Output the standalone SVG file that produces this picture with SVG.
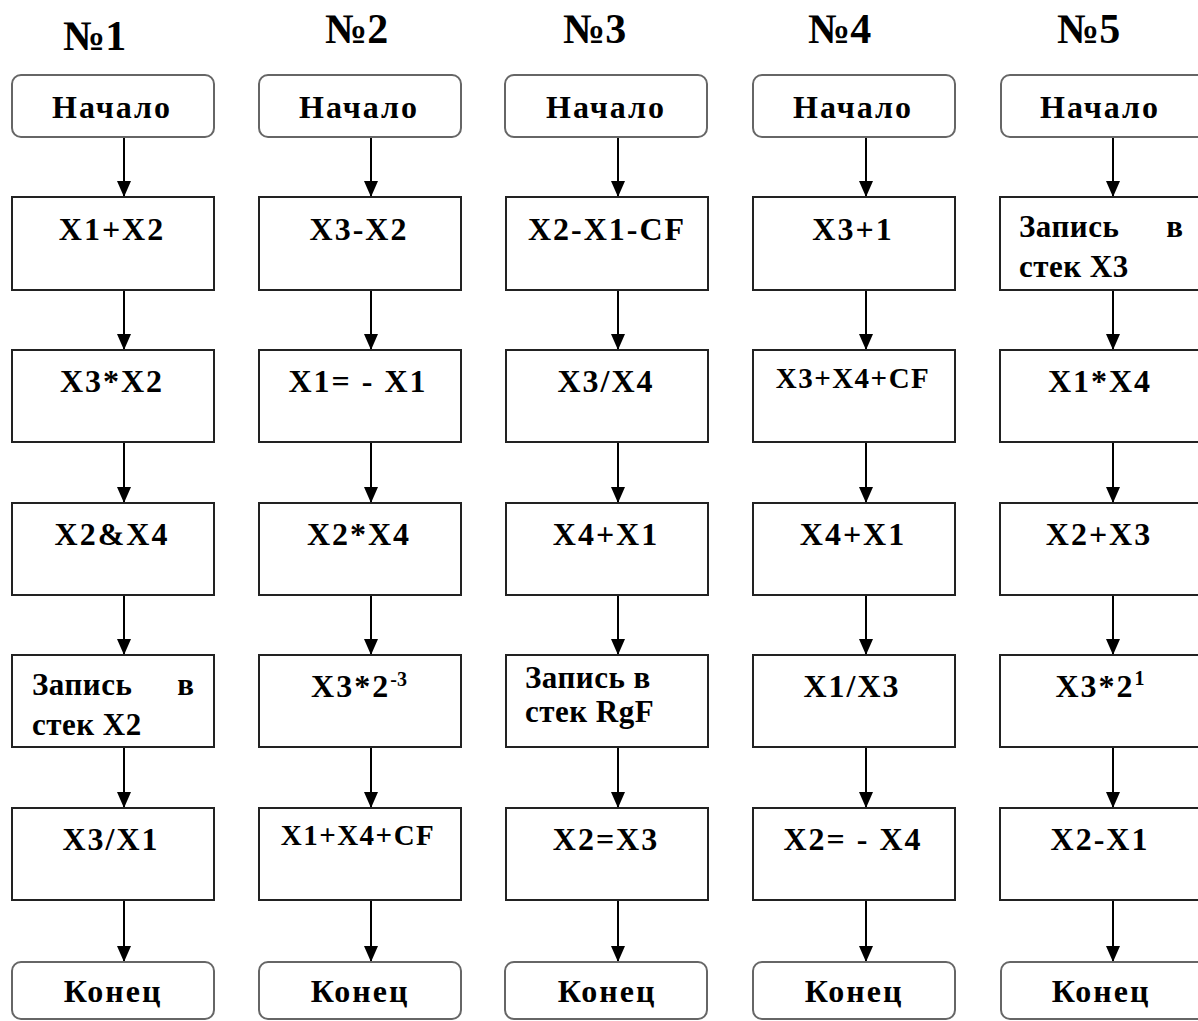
<svg xmlns="http://www.w3.org/2000/svg" width="1198" height="1021" viewBox="0 0 1198 1021">
  <style>
    text { font-family: "Liberation Serif", "Times New Roman", "DejaVu Serif", serif; font-weight: 700; fill: #000; }
    .hdr { font-size: 42px; }
    .lbl { font-size: 32px; letter-spacing: 2px; text-anchor: middle; }
    .sm { font-size: 29px; letter-spacing: 1.5px; text-anchor: middle; }
    .two { font-size: 31px; letter-spacing: 0.5px; }
    .term { fill: #fff; stroke: #666; stroke-width: 2; }
    .op { fill: #fff; stroke: #222; stroke-width: 2; }
    .conn line { stroke: #000; stroke-width: 2; marker-end: url(#arr); }
  </style>
  <defs>
    <marker id="arr" markerUnits="userSpaceOnUse" markerWidth="16" markerHeight="14" viewBox="0 0 16 14" refX="16" refY="7" orient="auto">
      <path d="M0,0 L16,7 L0,14 z" fill="#000"/>
    </marker>
  </defs>
  <rect width="1198" height="1021" fill="#fff"/>

  <!-- column headings -->
  <g id="headers">
    <text class="hdr" x="63" y="50">№1</text>
    <text class="hdr" x="325" y="43">№2</text>
    <text class="hdr" x="563" y="43">№3</text>
    <text class="hdr" x="808" y="43">№4</text>
    <text class="hdr" x="1057" y="43">№5</text>
  </g>

  <!-- connectors -->
  <g id="connectors" class="conn">
    <line x1="124" y1="137" x2="124" y2="197"/>
    <line x1="124" y1="290" x2="124" y2="350"/>
    <line x1="124" y1="442" x2="124" y2="503"/>
    <line x1="124" y1="595" x2="124" y2="655"/>
    <line x1="124" y1="747" x2="124" y2="808"/>
    <line x1="124" y1="900" x2="124" y2="962"/>

    <line x1="371" y1="137" x2="371" y2="197"/>
    <line x1="371" y1="290" x2="371" y2="350"/>
    <line x1="371" y1="442" x2="371" y2="503"/>
    <line x1="371" y1="595" x2="371" y2="655"/>
    <line x1="371" y1="747" x2="371" y2="808"/>
    <line x1="371" y1="900" x2="371" y2="962"/>

    <line x1="618" y1="137" x2="618" y2="197"/>
    <line x1="618" y1="290" x2="618" y2="350"/>
    <line x1="618" y1="442" x2="618" y2="503"/>
    <line x1="618" y1="595" x2="618" y2="655"/>
    <line x1="618" y1="747" x2="618" y2="808"/>
    <line x1="618" y1="900" x2="618" y2="962"/>

    <line x1="866" y1="137" x2="866" y2="197"/>
    <line x1="866" y1="290" x2="866" y2="350"/>
    <line x1="866" y1="442" x2="866" y2="503"/>
    <line x1="866" y1="595" x2="866" y2="655"/>
    <line x1="866" y1="747" x2="866" y2="808"/>
    <line x1="866" y1="900" x2="866" y2="962"/>

    <line x1="1113" y1="137" x2="1113" y2="197"/>
    <line x1="1113" y1="290" x2="1113" y2="350"/>
    <line x1="1113" y1="442" x2="1113" y2="503"/>
    <line x1="1113" y1="595" x2="1113" y2="655"/>
    <line x1="1113" y1="747" x2="1113" y2="808"/>
    <line x1="1113" y1="900" x2="1113" y2="962"/>
  </g>

  <!-- column 1 -->
  <g id="c1-start"><rect class="term" x="12" y="75" width="202" height="62" rx="9"/><text class="lbl" x="112" y="118">Начало</text></g>
  <g id="c1-s1"><rect class="op" x="12" y="197" width="202" height="93"/><text class="lbl" x="112" y="240">X1+X2</text></g>
  <g id="c1-s2"><rect class="op" x="12" y="350" width="202" height="92"/><text class="lbl" x="112" y="392">X3*X2</text></g>
  <g id="c1-s3"><rect class="op" x="12" y="503" width="202" height="92"/><text class="lbl" x="112" y="545">X2&amp;X4</text></g>
  <g id="c1-s4"><rect class="op" x="12" y="655" width="202" height="92"/>
    <text class="two" x="32" y="695">Запись</text><text class="two" x="194" y="695" text-anchor="end" style="letter-spacing:0">в</text>
    <text class="two" x="32" y="735">стек X2</text></g>
  <g id="c1-s5"><rect class="op" x="12" y="808" width="202" height="92"/><text class="lbl" x="111" y="850">X3/X1</text></g>
  <g id="c1-end"><rect class="term" x="12" y="962" width="202" height="57" rx="9"/><text class="lbl" x="113" y="1002">Конец</text></g>

  <!-- column 2 -->
  <g id="c2-start"><rect class="term" x="259" y="75" width="202" height="62" rx="9"/><text class="lbl" x="359" y="118">Начало</text></g>
  <g id="c2-s1"><rect class="op" x="259" y="197" width="202" height="93"/><text class="lbl" x="359" y="240">X3-X2</text></g>
  <g id="c2-s2"><rect class="op" x="259" y="350" width="202" height="92"/><text class="lbl" x="358" y="392">X1= - X1</text></g>
  <g id="c2-s3"><rect class="op" x="259" y="503" width="202" height="92"/><text class="lbl" x="359" y="545">X2*X4</text></g>
  <g id="c2-s4"><rect class="op" x="259" y="655" width="202" height="92"/><text class="lbl" x="359" y="697">X3*2<tspan font-size="20" dy="-11" letter-spacing="0">-3</tspan></text></g>
  <g id="c2-s5"><rect class="op" x="259" y="808" width="202" height="92"/><text class="sm" x="358" y="845">X1+X4+CF</text></g>
  <g id="c2-end"><rect class="term" x="259" y="962" width="202" height="57" rx="9"/><text class="lbl" x="360" y="1002">Конец</text></g>

  <!-- column 3 -->
  <g id="c3-start"><rect class="term" x="505" y="75" width="202" height="62" rx="9"/><text class="lbl" x="606" y="118">Начало</text></g>
  <g id="c3-s1"><rect class="op" x="506" y="197" width="202" height="93"/><text class="lbl" x="607" y="240">X2-X1-CF</text></g>
  <g id="c3-s2"><rect class="op" x="506" y="350" width="202" height="92"/><text class="lbl" x="606" y="392">X3/X4</text></g>
  <g id="c3-s3"><rect class="op" x="506" y="503" width="202" height="92"/><text class="lbl" x="606" y="545">X4+X1</text></g>
  <g id="c3-s4"><rect class="op" x="506" y="655" width="202" height="92"/>
    <text class="two" x="525" y="688">Запись в</text>
    <text class="two" x="525" y="722">стек RgF</text></g>
  <g id="c3-s5"><rect class="op" x="506" y="808" width="202" height="92"/><text class="lbl" x="606" y="850">X2=X3</text></g>
  <g id="c3-end"><rect class="term" x="505" y="962" width="202" height="57" rx="9"/><text class="lbl" x="607" y="1002">Конец</text></g>

  <!-- column 4 -->
  <g id="c4-start"><rect class="term" x="753" y="75" width="202" height="62" rx="9"/><text class="lbl" x="853" y="118">Начало</text></g>
  <g id="c4-s1"><rect class="op" x="753" y="197" width="202" height="93"/><text class="lbl" x="853" y="240">X3+1</text></g>
  <g id="c4-s2"><rect class="op" x="753" y="350" width="202" height="92"/><text class="sm" x="853" y="388">X3+X4+CF</text></g>
  <g id="c4-s3"><rect class="op" x="753" y="503" width="202" height="92"/><text class="lbl" x="853" y="545">X4+X1</text></g>
  <g id="c4-s4"><rect class="op" x="753" y="655" width="202" height="92"/><text class="lbl" x="852" y="697">X1/X3</text></g>
  <g id="c4-s5"><rect class="op" x="753" y="808" width="202" height="92"/><text class="lbl" x="853" y="850">X2= - X4</text></g>
  <g id="c4-end"><rect class="term" x="753" y="962" width="202" height="57" rx="9"/><text class="lbl" x="854" y="1002">Конец</text></g>

  <!-- column 5 -->
  <g id="c5-start"><rect class="term" x="1001" y="75" width="205" height="62" rx="9"/><text class="lbl" x="1100" y="118">Начало</text></g>
  <g id="c5-s1"><rect class="op" x="1000" y="197" width="205" height="93"/>
    <text class="two" x="1019" y="237">Запись</text><text class="two" x="1183" y="237" text-anchor="end" style="letter-spacing:0">в</text>
    <text class="two" x="1019" y="277">стек X3</text></g>
  <g id="c5-s2"><rect class="op" x="1000" y="350" width="205" height="92"/><text class="lbl" x="1100" y="392">X1*X4</text></g>
  <g id="c5-s3"><rect class="op" x="1000" y="503" width="205" height="92"/><text class="lbl" x="1099" y="545">X2+X3</text></g>
  <g id="c5-s4"><rect class="op" x="1000" y="655" width="205" height="92"/><text class="lbl" x="1100" y="697">X3*2<tspan font-size="20" dy="-12" letter-spacing="0">1</tspan></text></g>
  <g id="c5-s5"><rect class="op" x="1000" y="808" width="205" height="92"/><text class="lbl" x="1100" y="850">X2-X1</text></g>
  <g id="c5-end"><rect class="term" x="1001" y="962" width="205" height="57" rx="9"/><text class="lbl" x="1101" y="1002">Конец</text></g>
</svg>
